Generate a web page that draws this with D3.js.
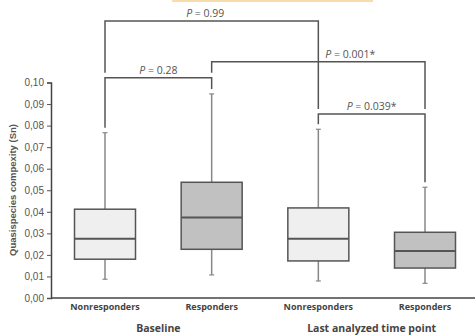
<!DOCTYPE html>
<html>
<head>
<meta charset="utf-8">
<script src="https://cdn.jsdelivr.net/npm/d3@7"></script>
<style>
  body { margin: 0; background: #fff; }
  svg { display: block; }
</style>
</head>
<body>
<div id="chart"></div>
<script>
// groups on x axis
const categories = ["Nonresponders", "Responders", "Nonresponders", "Responders"];
const groups = ["Baseline", "Baseline", "Last analyzed time point", "Last analyzed time point"];
const responder = [false, true, false, true];

// box stats
const whiskerLow = [0.0087, 0.0107, 0.0079, 0.0068];
const q1 = [0.0180, 0.0226, 0.0172, 0.0139];
const median = [0.0275, 0.0374, 0.0275, 0.0218];
const q3 = [0.0412, 0.0537, 0.0418, 0.0305];
const whiskerHigh = [0.0767, 0.0947, 0.0783, 0.0514];

const yTicks = [0, 0.01, 0.02, 0.03, 0.04, 0.05, 0.06, 0.07, 0.08, 0.09, 0.10];

// comparisons: from, to, label, bracket level (in Sn units)
const cmpFrom = [0, 0, 1, 2];
const cmpTo = [2, 1, 3, 3];
const cmpP = ["0.99", "0.28", "0.001*", "0.039*"];
const cmpLevel = [0.1285, 0.1022, 0.1096, 0.0854];
const cmpLabelAt = [0.47, 0.5, 0.65, 0.5]; // where the label sits between the two boxes

const W = 475, H = 336;
const svg = d3.select("#chart").append("svg")
  .attr("width", W).attr("height", H);

// thin orange strip at the very top
svg.append("rect")
  .attr("x", 172).attr("y", 0).attr("width", 201).attr("height", 2)
  .attr("fill", "#f9dcae");

const y = d3.scaleLinear().domain([0, 0.10]).range([298, 82.5]);
const x = d3.scalePoint().domain(d3.range(categories.length)).range([105, 425]);
const boxW = 61;

// y axis
const yAxis = svg.append("g")
  .attr("transform", "translate(51,0)")
  .call(d3.axisLeft(y).tickValues(yTicks).tickSize(4).tickPadding(3)
    .tickFormat(d => d3.format(".2f")(d).replace(".", ",")));
yAxis.select(".domain").attr("stroke", "#444").attr("stroke-width", 1.5);
yAxis.selectAll(".tick line").attr("stroke", "#555");
yAxis.selectAll(".tick text")
  .attr("font-family", "Liberation Sans, Arial, sans-serif")
  .attr("font-size", 10).attr("fill", "#555");

// x axis line
svg.append("line")
  .attr("x1", 51).attr("x2", W).attr("y1", y(0)).attr("y2", y(0))
  .attr("stroke", "#444").attr("stroke-width", 1.5);

svg.append("text")
  .attr("transform", "translate(16," + 190 + ") rotate(-90)")
  .attr("text-anchor", "middle")
  .attr("font-family", "Liberation Sans, Arial, sans-serif")
  .attr("font-weight", "bold").attr("font-size", 9.5).attr("fill", "#555")
  .text("Quasispecies compexity (Sn)");

// boxes
const boxes = svg.append("g").selectAll("g")
  .data(d3.range(categories.length))
  .join("g");

boxes.append("line")
  .attr("x1", i => x(i)).attr("x2", i => x(i))
  .attr("y1", i => y(whiskerHigh[i])).attr("y2", i => y(q3[i]))
  .attr("stroke", "#888").attr("stroke-width", 1.5);
boxes.append("line")
  .attr("x1", i => x(i)).attr("x2", i => x(i))
  .attr("y1", i => y(q1[i])).attr("y2", i => y(whiskerLow[i]))
  .attr("stroke", "#888").attr("stroke-width", 1.5);
[whiskerHigh, whiskerLow].forEach(arr => {
  boxes.append("line")
    .attr("x1", i => x(i) - 2.5).attr("x2", i => x(i) + 2.5)
    .attr("y1", i => y(arr[i])).attr("y2", i => y(arr[i]))
    .attr("stroke", "#888").attr("stroke-width", 1.2);
});
boxes.append("rect")
  .attr("x", i => x(i) - boxW / 2).attr("width", boxW)
  .attr("y", i => y(q3[i])).attr("height", i => y(q1[i]) - y(q3[i]))
  .attr("fill", i => responder[i] ? "#c1c1c1" : "#efefef")
  .attr("stroke", "#555").attr("stroke-width", 1.5);
boxes.append("line")
  .attr("x1", i => x(i) - boxW / 2).attr("x2", i => x(i) + boxW / 2)
  .attr("y1", i => y(median[i])).attr("y2", i => y(median[i]))
  .attr("stroke", "#555").attr("stroke-width", 2);

// category labels
svg.append("g").selectAll("text")
  .data(categories)
  .join("text")
  .attr("x", (d, i) => x(i)).attr("y", 310)
  .attr("text-anchor", "middle")
  .attr("font-family", "Open Sans, sans-serif")
  .attr("font-weight", "bold").attr("font-size", 9).attr("fill", "#444")
  .text(d => d);

// group labels
const groupNames = Array.from(new Set(groups));
svg.append("g").selectAll("text")
  .data(groupNames)
  .join("text")
  .attr("x", g => d3.mean(d3.range(groups.length).filter(i => groups[i] === g), i => x(i)))
  .attr("y", 332)
  .attr("text-anchor", "middle")
  .attr("font-family", "Open Sans, sans-serif")
  .attr("font-weight", "bold").attr("font-size", 10.5).attr("fill", "#444")
  .text(d => d);

// significance brackets
const gap = 5;
function legBottom(k, c) {
  // the leg stops just above whatever is right below it at that box
  const top = y(cmpLevel[k]);
  let stop = y(whiskerHigh[c]);
  cmpLevel.forEach((lv, j) => {
    if (j === k) return;
    if (cmpFrom[j] !== c && cmpTo[j] !== c) return;
    const yy = y(lv);
    if (yy > top && yy < stop) stop = yy;
  });
  return stop - gap;
}

const br = svg.append("g");
cmpP.forEach((p, k) => {
  const x0 = x(cmpFrom[k]), x1 = x(cmpTo[k]);
  const yt = y(cmpLevel[k]);
  br.append("path")
    .attr("d", d3.line()([[x0, legBottom(k, cmpFrom[k])], [x0, yt], [x1, yt], [x1, legBottom(k, cmpTo[k])]]))
    .attr("fill", "none").attr("stroke", "#555").attr("stroke-width", 1.5);
  const t = br.append("text")
    .attr("x", x0 + (x1 - x0) * cmpLabelAt[k]).attr("y", yt - 4)
    .attr("text-anchor", "middle")
    .attr("font-family", "Open Sans, sans-serif")
    .attr("font-size", 10.5).attr("fill", "#555");
  t.append("tspan").attr("font-style", "italic").text("P");
  t.append("tspan").text(" = " + p);
});
</script>
</body>
</html>
